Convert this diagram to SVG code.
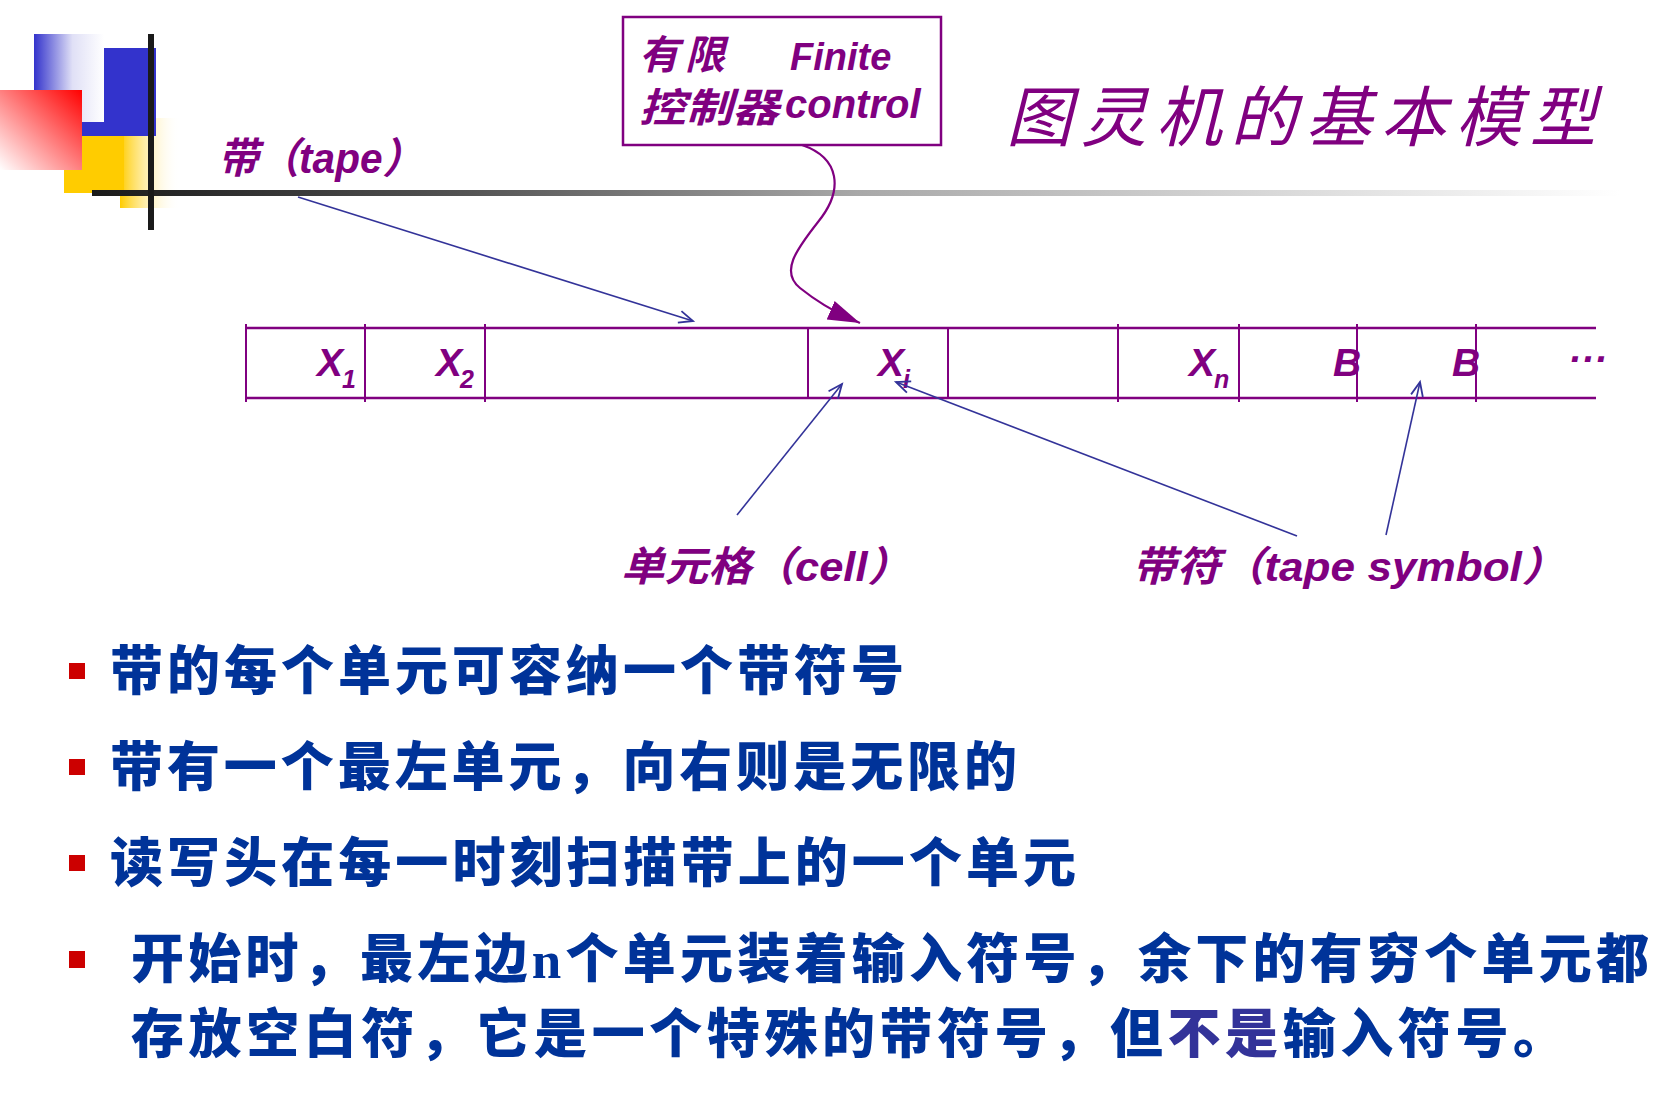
<svg xmlns="http://www.w3.org/2000/svg" width="1670" height="1098" viewBox="0 0 1670 1098">
<style>
.pu{fill:#800080;font-family:"Liberation Sans","Noto Sans CJK SC",sans-serif;font-weight:bold;font-style:italic}
.cell{font-size:39px}
.sub{font-size:25px}
.bt{fill:#003399;font-family:"Noto Sans CJK SC",sans-serif;font-weight:900;font-size:53px}
.bl{fill:#CC0000}
.tape{stroke:#800080;stroke-width:2.5;fill:none}
.blue{stroke:#333399;stroke-width:1.6;fill:none}
</style>
<defs>
<linearGradient id="gBlue" x1="0" y1="0" x2="1" y2="0"><stop offset="0" stop-color="#3333CC"/><stop offset="0.55" stop-color="#E0E0F6"/><stop offset="1" stop-color="#FFFFFF"/></linearGradient>
<linearGradient id="gRed" x1="1" y1="0" x2="0" y2="1"><stop offset="0" stop-color="#FF0000"/><stop offset="1" stop-color="#FFFFFF"/></linearGradient>
<linearGradient id="gYel" x1="0" y1="0" x2="1" y2="0"><stop offset="0" stop-color="#FFCC00"/><stop offset="1" stop-color="#FFFFFF" stop-opacity="0"/></linearGradient>
<linearGradient id="gLine" gradientUnits="userSpaceOnUse" x1="92" y1="0" x2="1620" y2="0"><stop offset="0" stop-color="#1A1A1A"/><stop offset="0.25" stop-color="#555555"/><stop offset="0.5" stop-color="#A8A8A8"/><stop offset="0.8" stop-color="#DDDDDD"/><stop offset="1" stop-color="#FFFFFF"/></linearGradient>
<marker id="open" markerUnits="userSpaceOnUse" markerWidth="20" markerHeight="16" refX="15" refY="7" orient="auto"><path d="M1,1 L15,7 L1,13" fill="none" stroke="#333399" stroke-width="1.8"/></marker>
<marker id="fill" markerUnits="userSpaceOnUse" markerWidth="36" markerHeight="24" refX="32" refY="10" orient="auto"><path d="M0,0 L32,10 L0,20 Z" fill="#800080"/></marker>
</defs>
<rect width="1670" height="1098" fill="#FFFFFF"/>

<g id="decor">
<rect x="120" y="118" width="60" height="90" fill="url(#gYel)"/>
<rect x="64" y="136" width="60" height="57" fill="#FFCC00"/>
<rect x="82" y="48" width="74" height="88" fill="#3333CC"/>
<rect x="34" y="34" width="70" height="88" fill="url(#gBlue)"/>
<rect x="0" y="90" width="82" height="80" fill="url(#gRed)"/>
<rect x="92" y="190" width="1528" height="6" fill="url(#gLine)"/>
<rect x="148" y="34" width="6" height="196" fill="#1A1A1A"/>
</g>

<g id="title"><text x="1006" y="141" fill="#800080" font-family="'Noto Sans CJK SC',sans-serif" font-weight="400" font-style="italic" font-size="66" textLength="590" lengthAdjust="spacing">图灵机的基本模型</text></g>

<g id="tape-label"><text class="pu" x="218" y="173" font-size="42" textLength="205" lengthAdjust="spacingAndGlyphs">带（tape）</text></g>

<g id="finite-control">
<rect x="623" y="17" width="318" height="128" fill="none" stroke="#800080" stroke-width="2.5"/>
<text class="pu" x="639" y="69" font-size="40" textLength="86" lengthAdjust="spacing">有限</text>
<text class="pu" x="790" y="70" font-size="38">Finite</text>
<text class="pu" x="639" y="122" font-size="40" textLength="140" lengthAdjust="spacingAndGlyphs">控制器</text>
<text class="pu" x="785" y="118" font-size="40">control</text>
</g>

<g id="tape">
<line class="tape" x1="246" y1="328" x2="1596" y2="328"/>
<line class="tape" x1="246" y1="398" x2="1596" y2="398"/>
<g stroke="#800080" stroke-width="2">
<line x1="246" y1="324" x2="246" y2="402"/>
<line x1="365" y1="324" x2="365" y2="402"/>
<line x1="485" y1="324" x2="485" y2="402"/>
<line x1="808" y1="328" x2="808" y2="398"/>
<line x1="948" y1="328" x2="948" y2="398"/>
<line x1="1118" y1="324" x2="1118" y2="402"/>
<line x1="1239" y1="324" x2="1239" y2="402"/>
<line x1="1357" y1="324" x2="1357" y2="402"/>
<line x1="1476" y1="324" x2="1476" y2="402"/>
</g>
<text class="pu cell" x="317" y="376">X<tspan class="sub" dy="12" dx="-1">1</tspan></text>
<text class="pu cell" x="436" y="376">X<tspan class="sub" dy="12" dx="-2">2</tspan></text>
<text class="pu cell" x="878" y="376">X<tspan class="sub" dy="12" dx="-1">i</tspan></text>
<text class="pu cell" x="1189" y="376">X<tspan class="sub" dy="12" dx="-1">n</tspan></text>
<text class="pu cell" x="1333" y="376">B</text>
<text class="pu cell" x="1452" y="376">B</text>
<text class="pu cell" x="1568" y="372">···</text>
</g>

<g id="cell-label"><text class="pu" x="621" y="581" font-size="41" textLength="290" lengthAdjust="spacingAndGlyphs">单元格（cell）</text></g>
<g id="symbol-label"><text class="pu" x="1132" y="581" font-size="41" textLength="434" lengthAdjust="spacingAndGlyphs">带符（tape symbol）</text></g>

<g id="connectors">
<line class="blue" x1="298" y1="197" x2="693" y2="321" marker-end="url(#open)"/>
<path d="M802,145 C840,158 844,190 818,222 C796,250 780,272 800,288 C815,300 830,310 860,323" fill="none" stroke="#800080" stroke-width="2.2" marker-end="url(#fill)"/>
<line class="blue" x1="737" y1="515" x2="842" y2="384" marker-end="url(#open)"/>
<line class="blue" x1="1297" y1="536" x2="896" y2="382" marker-end="url(#open)"/>
<line class="blue" x1="1386" y1="535" x2="1420" y2="382" marker-end="url(#open)"/>
</g>

<g id="bullets">
<rect class="bl" x="69" y="663" width="16" height="16"/>
<text class="bt" x="110" y="690" textLength="794" lengthAdjust="spacing">带的每个单元可容纳一个带符号</text>
<rect class="bl" x="69" y="759" width="16" height="16"/>
<text class="bt" x="110" y="786" textLength="907" lengthAdjust="spacing">带有一个最左单元，向右则是无限的</text>
<rect class="bl" x="69" y="855" width="16" height="16"/>
<text class="bt" x="110" y="882" textLength="966" lengthAdjust="spacing">读写头在每一时刻扫描带上的一个单元</text>
<rect class="bl" x="69" y="951" width="16" height="17"/>
<text class="bt" x="131" y="978" textLength="1518" lengthAdjust="spacing">开始时，最左边<tspan font-family="'Liberation Serif',serif">n</tspan>个单元装着输入符号，余下的有穷个单元都</text>
<text class="bt" x="131" y="1053" textLength="1435" lengthAdjust="spacing">存放空白符，它是一个特殊的带符号，但<tspan fill="#333399">不是</tspan>输入符号。</text>
</g>
</svg>
